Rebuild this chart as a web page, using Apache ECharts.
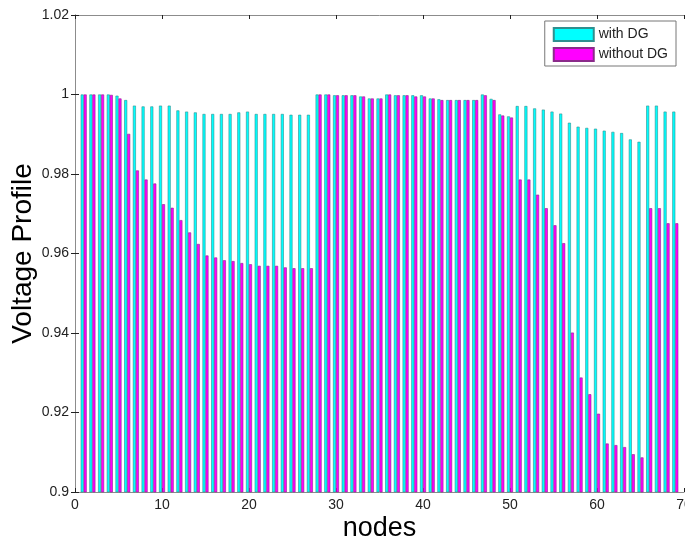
<!DOCTYPE html>
<html>
<head>
<meta charset="utf-8">
<script src="https://cdn.jsdelivr.net/npm/echarts@6/dist/echarts.min.js"></script>
<style>
  html, body { margin: 0; padding: 0; background: #fff; }
  #chart { width: 685px; height: 540px; }
</style>
</head>
<body>
<div id="chart"></div>
<script>
// node numbers 1..69
const nodes = [
  1, 2, 3, 4, 5, 6, 7, 8, 9, 10, 11, 12, 13, 14, 15, 16, 17, 18, 19, 20,
  21, 22, 23, 24, 25, 26, 27, 28, 29, 30, 31, 32, 33, 34, 35, 36, 37, 38, 39, 40,
  41, 42, 43, 44, 45, 46, 47, 48, 49, 50, 51, 52, 53, 54, 55, 56, 57, 58, 59, 60,
  61, 62, 63, 64, 65, 66, 67, 68, 69
]
// voltage with DG
const withDG = [
  1.0000, 1.0000, 1.0000, 1.0000, 0.9997, 0.9986, 0.9972, 0.9970, 0.9970, 0.9972,
  0.9972, 0.9960, 0.9957, 0.9955, 0.9951, 0.9951, 0.9951, 0.9951, 0.9955, 0.9957,
  0.9951, 0.9951, 0.9951, 0.9951, 0.9949, 0.9949, 0.9949, 1.0000, 1.0000, 0.9998,
  0.9998, 0.9998, 0.9995, 0.9990, 0.9990, 1.0000, 0.9998, 0.9998, 0.9998, 0.9998,
  0.9990, 0.9988, 0.9986, 0.9986, 0.9986, 0.9986, 1.0000, 0.9989, 0.9950, 0.9945,
  0.9971, 0.9971, 0.9965, 0.9962, 0.9957, 0.9952, 0.9929, 0.9919, 0.9916, 0.9914,
  0.9909, 0.9906, 0.9903, 0.9887, 0.9881, 0.9972, 0.9972, 0.9957, 0.9957
]
// voltage without DG
const withoutDG = [
  1.0000, 1.0000, 1.0000, 0.9999, 0.9990, 0.9901, 0.9809, 0.9786, 0.9776, 0.9724,
  0.9715, 0.9684, 0.9653, 0.9624, 0.9595, 0.9590, 0.9583, 0.9581, 0.9576, 0.9573,
  0.9569, 0.9569, 0.9569, 0.9565, 0.9563, 0.9563, 0.9563, 1.0000, 1.0000, 0.9998,
  0.9998, 0.9998, 0.9995, 0.9990, 0.9990, 1.0000, 0.9998, 0.9998, 0.9995, 0.9995,
  0.9990, 0.9986, 0.9986, 0.9986, 0.9986, 0.9986, 0.9998, 0.9986, 0.9947, 0.9942,
  0.9786, 0.9786, 0.9748, 0.9714, 0.9671, 0.9626, 0.9401, 0.9288, 0.9246, 0.9197,
  0.9122, 0.9118, 0.9113, 0.9095, 0.9087, 0.9714, 0.9714, 0.9676, 0.9676
]
const seriesNames = ['with DG', 'without DG']

const chart = echarts.init(document.getElementById('chart'))
const font = 'Liberation Sans, Arial, sans-serif'
const lineColor = '#8c8c8c'

const boxAxis = {
  axisLine: { show: true, lineStyle: { color: lineColor, width: 1 } },
  axisTick: { show: true, inside: true, length: 4, lineStyle: { color: '#222' } },
  splitLine: { show: false }
}

chart.setOption({
  animation: false,
  backgroundColor: '#fff',
  grid: { left: 75, right: 1, top: 15, bottom: 48, containLabel: false, outerBoundsMode: 'none' },
  legend: {
    data: seriesNames,
    orient: 'vertical',
    right: 9,
    top: 21,
    icon: 'rect',
    itemWidth: 40,
    itemHeight: 13,
    itemGap: 5,
    padding: [6, 8, 4, 8],
    borderColor: '#777',
    borderWidth: 1,
    borderRadius: 0,
    backgroundColor: '#fff',
    textStyle: { fontFamily: font, fontSize: 14, color: '#222' }
  },
  xAxis: [
    {
      type: 'value', min: 0, max: 70, interval: 10,
      ...boxAxis,
      axisLabel: { fontFamily: font, fontSize: 14, color: '#222', margin: 6 },
      name: 'nodes', nameLocation: 'middle', nameGap: 23, nameMoveOverlap: false,
      nameTextStyle: { fontFamily: font, fontSize: 27, color: '#000', verticalAlign: 'top' }
    },
    {
      type: 'value', min: 0, max: 70, interval: 10, position: 'top',
      ...boxAxis, axisLabel: { show: false }
    }
  ],
  yAxis: [
    {
      type: 'value', min: 0.9, max: 1.02, interval: 0.02,
      ...boxAxis,
      axisLabel: {
        fontFamily: font, fontSize: 14, color: '#222', margin: 6,
        formatter: v => String(+v.toFixed(2))
      },
      name: 'Voltage Profile', nameLocation: 'middle', nameGap: 38, nameMoveOverlap: false,
      nameTextStyle: { fontFamily: font, fontSize: 28, color: '#000' }
    },
    {
      type: 'value', min: 0.9, max: 1.02, interval: 0.02, position: 'right',
      ...boxAxis, axisLabel: { show: false }
    }
  ],
  series: [
    {
      name: seriesNames[0],
      type: 'bar',
      barWidth: 3,
      barGap: '0%',
      itemStyle: { color: '#00ffff', borderColor: '#2f8f8f', borderWidth: 0.6 },
      data: nodes.map((n, i) => [n, withDG[i]])
    },
    {
      name: seriesNames[1],
      type: 'bar',
      barWidth: 3,
      barGap: '0%',
      itemStyle: { color: '#ff00ff', borderColor: '#8a2a8a', borderWidth: 0.6 },
      data: nodes.map((n, i) => [n, withoutDG[i]])
    }
  ]
})
</script>
</body>
</html>
